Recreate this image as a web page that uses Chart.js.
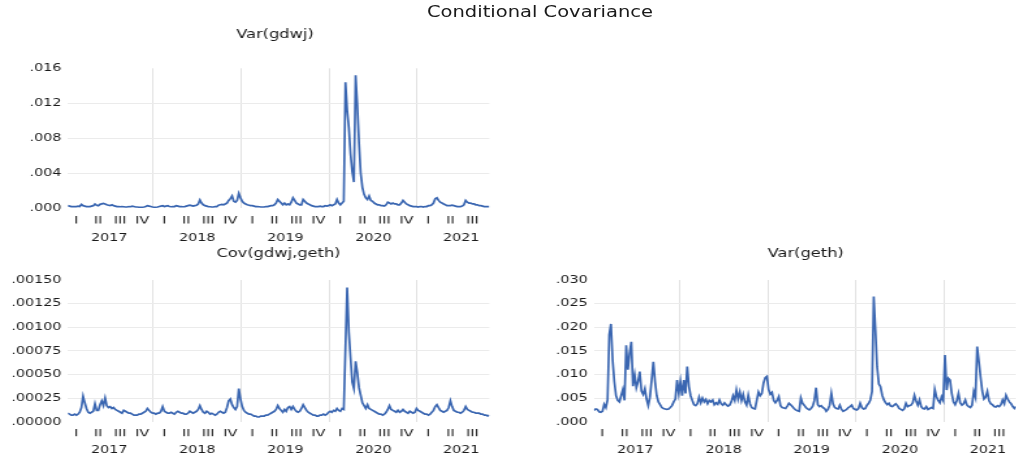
<!DOCTYPE html>
<html>
<head>
<meta charset="utf-8">
<title>Conditional Covariance</title>
<script src="https://cdn.jsdelivr.net/npm/chart.js@4.4.1/dist/chart.umd.min.js"></script>
<style>
  html, body { margin: 0; padding: 0; background: #fff; overflow: hidden; width: 1016px; height: 459px; }
  /* the whole figure is laid out narrow and widened horizontally */
  #stage { position: absolute; left: 0; top: 0; width: 781.5px; height: 459px;
           transform: scaleX(1.3); transform-origin: 0 0; }
  .box { position: absolute; }
  .ttl { position: absolute; font-family: 'DejaVu Sans', sans-serif; color: #1a1a1a;
         text-align: center; white-space: nowrap; line-height: 1; }
</style>
</head>
<body>
<div id="stage">
  <div class="ttl" style="left:315.4px;width:200px;top:5px;font-size:15px">Conditional Covariance</div>
  <div class="box" style="left:0;top:20px;width:390px;height:230px"><canvas id="cVarGdwj"></canvas></div>
  <div class="box" style="left:0;top:235px;width:390px;height:224px"><canvas id="cCov"></canvas></div>
  <div class="box" style="left:420px;top:235px;width:361.5px;height:224px"><canvas id="cVarGeth"></canvas></div>
</div>

<script>
// weekly observations, first week of 2017 onward (decimal years)
const firstWeek = 2017.03;
const weeksPerYear = 52;

// conditional variance of gdwj
const varGdwj = [
  .0003,.00025,.0002,.0002,.0002,.0002,.00025,.0002,.00045,.0003,
  .00025,.0002,.0002,.0002,.00025,.0003,.0005,.00035,.0003,.00045,
  .0005,.00055,.0005,.0004,.00035,.0003,.0004,.0003,.00025,.0002,
  .0002,.00018,.0002,.00018,.00015,.00015,.0002,.00018,.00025,.0002,
  .00015,.00015,.00012,.00012,.00012,.00015,.0002,.0003,.00025,.0002,
  .00015,.00012,.00012,.00015,.0002,.00025,.0003,.0002,.00025,.0003,
  .0002,.00018,.0002,.0002,.0003,.00025,.0002,.0002,.00018,.0002,
  .00025,.0003,.00035,.0003,.00025,.0003,.00035,.0005,.00095,.0006,
  .0004,.0003,.00025,.0002,.00018,.00015,.00015,.0002,.0002,.00035,
  .0004,.00045,.0004,.0005,.0006,.0009,.0011,.0014,.0008,.0007,
  .0009,.0017,.0012,.0008,.0006,.0005,.0004,.00035,.0003,.0003,
  .00025,.0002,.0002,.00018,.00015,.00015,.00015,.0002,.0002,.00025,
  .0003,.0003,.0004,.0006,.001,.0008,.0006,.0004,.0006,.0004,
  .0005,.0004,.0007,.0012,.0009,.0006,.0005,.0004,.0004,.001,
  .0008,.0006,.0005,.0004,.0003,.00025,.0002,.0002,.0002,.00025,
  .0002,.0002,.0003,.00025,.0003,.0004,.0003,.0004,.0005,.001,
  .0006,.0004,.0006,.0008,.0144,.0112,.0092,.0062,.0042,.003,
  .0152,.0118,.0075,.004,.0024,.0016,.0012,.001,.0014,.0009,
  .0008,.0006,.0005,.0004,.0004,.0003,.0003,.00025,.0004,.0007,
  .0006,.0005,.0006,.0005,.0005,.0004,.0004,.0006,.0009,.0007,
  .0005,.0004,.0003,.00025,.0002,.0002,.0002,.00015,.0002,.0002,
  .00015,.0002,.0002,.0003,.0003,.0004,.0006,.0011,.0012,.0009,
  .0007,.0006,.0005,.0004,.0003,.0003,.0003,.00035,.0003,.00025,
  .0002,.0002,.0002,.00025,.0004,.0009,.0007,.0006,.0006,.0005,
  .0005,.0004,.0004,.0003,.0003,.00025,.0002,.0002,.0002,.0002
];

// conditional covariance of gdwj and geth
const covGdwjGeth = [
  .00009,.00008,.00007,.00007,.00008,.00007,.00008,.0001,.00015,.00027,
  .0002,.00014,.0001,.00009,.0001,.00011,.00019,.00012,.00012,.00018,
  .00022,.00017,.00025,.00017,.00015,.00016,.00014,.00015,.00013,.00012,
  .00011,.0001,.00009,.00012,.00011,.0001,.00009,.00009,.00008,.00007,
  .00007,.00007,.00008,.00008,.00009,.0001,.00011,.00014,.00012,.0001,
  .00009,.00009,.00008,.00009,.00009,.00011,.00016,.00011,.0001,.00009,
  .00009,.0001,.00009,.00008,.0001,.00011,.0001,.00009,.00009,.00008,
  .00008,.00009,.00011,.0001,.00009,.0001,.00011,.00013,.00017,.00013,
  .0001,.00009,.00011,.0001,.00008,.00009,.00008,.00007,.00008,.0001,
  .00011,.0001,.00009,.0001,.00015,.00022,.00024,.00018,.00015,.00013,
  .00016,.00035,.00024,.00016,.00012,.0001,.00009,.00008,.00008,.00007,
  .00006,.00006,.00005,.00005,.00006,.00006,.00006,.00007,.00007,.00008,
  .00009,.0001,.00011,.00013,.00017,.00014,.00012,.0001,.00013,.00011,
  .00015,.00016,.00013,.00016,.00013,.00011,.0001,.00011,.00014,.00018,
  .00015,.00012,.0001,.00009,.00008,.00007,.00007,.00006,.00006,.00007,
  .00007,.00008,.00007,.00008,.0001,.00011,.0001,.00012,.00011,.00014,
  .00012,.00011,.00014,.00013,.00078,.00142,.00095,.00068,.00042,.00035,
  .00064,.00052,.00036,.00028,.0002,.00017,.00014,.00018,.00014,.00013,
  .00012,.00011,.0001,.00009,.00008,.00008,.00007,.00008,.0001,.00013,
  .00017,.00013,.00012,.00011,.0001,.00012,.0001,.00011,.00013,.00011,
  .0001,.00009,.00011,.0001,.00009,.0001,.00014,.00012,.00011,.0001,
  .00009,.00008,.00008,.00007,.00008,.0001,.00012,.00016,.00018,.00015,
  .00012,.00011,.0001,.00011,.00012,.00015,.00022,.00016,.00012,.00011,
  .0001,.0001,.00009,.0001,.00012,.00016,.00013,.00012,.00011,.0001,
  .0001,.00009,.00009,.00009,.00008,.00008,.00007,.00007,.00006,.00007
];

// conditional variance of geth
const varGeth = [
  .0024,.0027,.0026,.0021,.002,.0022,.0037,.003,.0046,.0184,
  .0207,.013,.0085,.0055,.0045,.0042,.0055,.0068,.0045,.0162,
  .011,.0145,.0169,.0075,.0099,.0072,.0085,.0106,.0065,.0058,
  .007,.0048,.0034,.0052,.0088,.0127,.0085,.0055,.0042,.0036,
  .003,.0028,.0027,.0026,.0027,.003,.0034,.0042,.0048,.0088,
  .006,.0085,.0055,.0088,.006,.0117,.0075,.0055,.0045,.0036,
  .0034,.0038,.0052,.004,.005,.0042,.0047,.0038,.0045,.0042,
  .0046,.0036,.004,.0037,.0046,.0038,.0035,.004,.0036,.0033,
  .0035,.0042,.0055,.0045,.0067,.0048,.0063,.0045,.0058,.0042,
  .0035,.0056,.0038,.003,.0028,.0027,.0045,.0063,.0055,.006,
  .0082,.0093,.0096,.0068,.0058,.0062,.0045,.004,.0045,.0053,
  .0034,.003,.0029,.0028,.0033,.0039,.0036,.0032,.0028,.0025,
  .0023,.0022,.005,.0039,.0035,.003,.0027,.0025,.0028,.0033,
  .0045,.0072,.0036,.0032,.0034,.003,.0028,.0022,.0026,.0035,
  .006,.0038,.003,.0028,.0027,.0035,.0026,.0022,.0024,.0026,
  .003,.0032,.0035,.0028,.0026,.0025,.0028,.0039,.003,.0027,
  .0028,.0035,.0039,.0046,.0064,.0265,.0194,.0116,.008,.0074,
  .0056,.0046,.004,.0036,.0039,.0033,.0032,.0035,.0038,.0034,
  .0028,.0026,.0024,.0027,.0039,.0032,.0034,.0035,.004,.0056,
  .0044,.0035,.0046,.0032,.0028,.0027,.0032,.0026,.0028,.003,
  .0028,.0068,.0053,.0045,.004,.0053,.0045,.0141,.0067,.0092,
  .0088,.006,.0042,.0036,.0045,.006,.004,.0035,.0038,.0046,
  .0035,.0032,.003,.0035,.0064,.0052,.0159,.0128,.0095,.0065,
  .0048,.0052,.0064,.0045,.0038,.0036,.0032,.0031,.0034,.0032,
  .0036,.0046,.0038,.0056,.0048,.0042,.0038,.0032,.0028,.0032
];

// axis labels
const quarterLabels = ['I', 'II', 'III', 'IV'];
const years = [2017, 2018, 2019, 2020, 2021];

const lineColor = '#3a66b1';
const vGridColor = '#e2e2e2';
const hGridColor = '#ebebeb';
const textColor = '#1a1a1a';
const fontFamily = "'DejaVu Sans', sans-serif";
Chart.defaults.font.family = fontFamily;

const toPoints = vals => vals.map((v, i) => ({ x: firstWeek + i / weeksPerYear, y: v }));
const xMin = firstWeek;
const xMax = firstWeek + (varGdwj.length - 1) / weeksPerYear;

// year boundaries carry the grid lines, quarter middles the roman numerals,
// year middles the year numbers on the second label row
function timeTicks(min, max) {
  const out = [];
  years.forEach(y => {
    [0, 0.125, 0.375, 0.5, 0.625, 0.875].forEach(f => {
      const v = y + f;
      if (v >= min && v <= max) out.push({ value: v });
    });
  });
  return out.sort((a, b) => a.value - b.value);
}
function timeLabel(v) {
  const y = Math.floor(v + 1e-9);
  const k = Math.round((v - y) * 8);
  if (k === 0) return '';
  if (k === 4) return ['', String(y)];
  return [quarterLabels[(k - 1) / 2], ''];
}

// hides the lower part of the quarter numerals, leaving the year row intact
const numeralTrim = {
  id: 'numeralTrim',
  afterDraw(chart, args, opts) {
    const { ctx, chartArea } = chart;
    ctx.save();
    ctx.fillStyle = '#fff';
    ctx.fillRect(0, chartArea.bottom + opts.from, chart.width, opts.to - opts.from);
    ctx.restore();
  }
};

// series name above each panel
const panelTitle = {
  id: 'panelTitle',
  afterDraw(chart, args, opts) {
    const { ctx } = chart;
    ctx.save();
    ctx.font = `12.5px ${fontFamily}`;
    ctx.fillStyle = textColor;
    ctx.textAlign = 'center';
    ctx.textBaseline = 'alphabetic';
    ctx.fillText(opts.text, opts.x, opts.y);
    ctx.restore();
  }
};

function makePanel(id, values, cfg) {
  const ctx = document.getElementById(id);
  return new Chart(ctx, {
    type: 'line',
    data: {
      datasets: [{
        data: toPoints(values),
        borderColor: lineColor,
        borderWidth: 1.7,
        pointRadius: 0,
        tension: 0,
        fill: false
      }]
    },
    plugins: [numeralTrim, panelTitle],
    options: {
      responsive: true,
      maintainAspectRatio: false,
      animation: false,
      events: [],
      layout: { padding: { top: cfg.padTop, right: cfg.padRight, left: 0, bottom: 0 } },
      plugins: {
        legend: { display: false },
        tooltip: { enabled: false },
        numeralTrim: { from: cfg.trimFrom, to: cfg.trimTo },
        panelTitle: { text: cfg.title, x: cfg.titleX, y: cfg.titleY }
      },
      scales: {
        x: {
          type: 'linear',
          min: xMin,
          max: xMax,
          border: { display: false },
          grid: {
            drawTicks: false,
            lineWidth: 1,
            color: c => (c.tick && Math.abs(c.tick.value - Math.round(c.tick.value)) < 1e-9) ? vGridColor : 'rgba(0,0,0,0)'
          },
          ticks: {
            autoSkip: false,
            maxRotation: 0,
            minRotation: 0,
            padding: cfg.xPad,
            color: textColor,
            font: { size: 11, lineHeight: cfg.xLine / 11 },
            callback: v => timeLabel(v)
          },
          afterBuildTicks: s => { s.ticks = timeTicks(s.min, s.max); },
          afterFit: s => { s.height = cfg.xAxisH; }
        },
        y: {
          min: 0,
          max: cfg.yMax,
          border: { display: false },
          grid: {
            drawTicks: false,
            lineWidth: 1,
            color: c => (c.tick && (c.tick.value <= 1e-12 || c.tick.value >= cfg.yMax * 0.999)) ? 'rgba(0,0,0,0)' : hGridColor
          },
          ticks: {
            stepSize: cfg.yStep,
            padding: 4.9,
            color: textColor,
            font: { size: 11 },
            callback: v => v.toFixed(cfg.digits).replace(/^0/, '')
          },
          afterFit: s => { s.width = cfg.yAxisW; }
        }
      }
    }
  });
}

makePanel('cVarGdwj', varGdwj, {
  title: 'Var(gdwj)', titleX: 211.5, titleY: 18.1,
  yMax: 0.016, yStep: 0.004, digits: 3,
  padTop: 48.3, padRight: 13.6, yAxisW: 52.2,
  xAxisH: 41.7, xPad: 4.2, xLine: 17, trimFrom: 15.2, trimTo: 24
});
makePanel('cCov', covGdwjGeth, {
  title: 'Cov(gdwj,geth)', titleX: 214.2, titleY: 21.6,
  yMax: 0.0015, yStep: 0.00025, digits: 5,
  padTop: 45, padRight: 13.6, yAxisW: 52.2,
  xAxisH: 37.3, xPad: 4, xLine: 16, trimFrom: 14.5, trimTo: 22
});
makePanel('cVarGeth', varGeth, {
  title: 'Var(geth)', titleX: 199.2, titleY: 21.6,
  yMax: 0.030, yStep: 0.005, digits: 3,
  padTop: 45, padRight: 0.2, yAxisW: 36.8,
  xAxisH: 37.3, xPad: 4, xLine: 16, trimFrom: 14.5, trimTo: 22
});
</script>
</body>
</html>
